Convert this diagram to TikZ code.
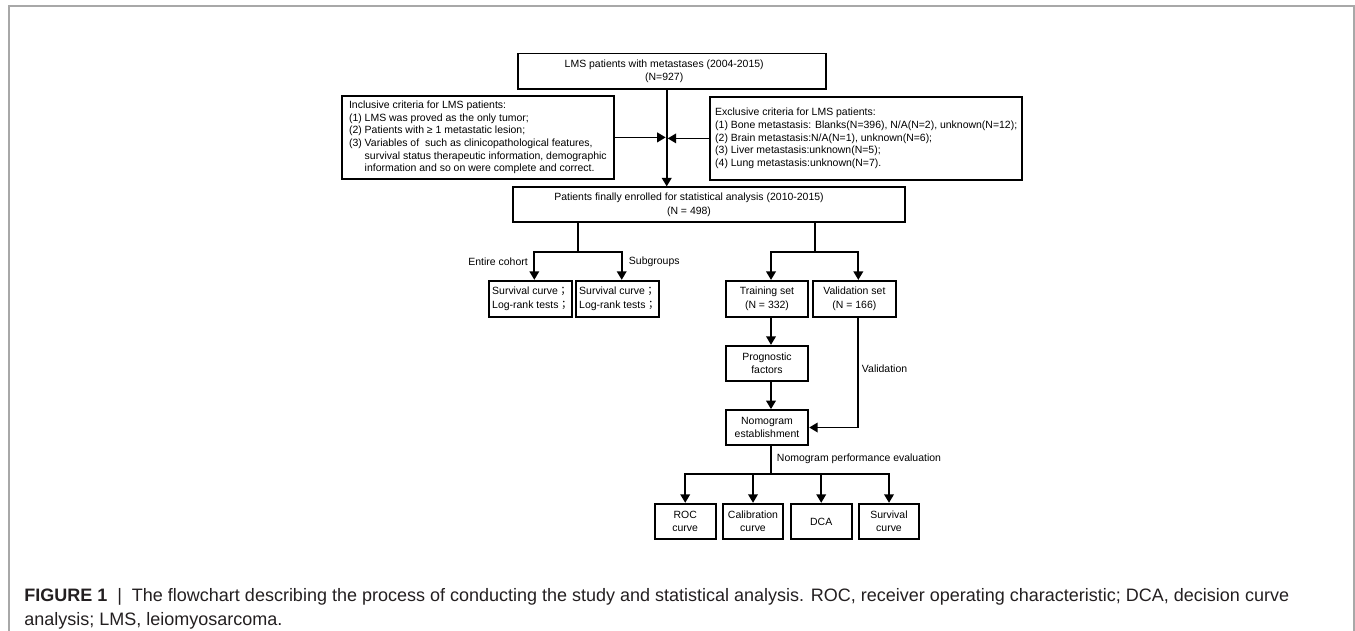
\documentclass[tikz,border=0pt]{standalone}
\usepackage{fontspec}
\setmainfont{Liberation Sans}
\newfontfamily\cjkfont{Noto Sans CJK TC}
\usetikzlibrary{arrows.meta}
\definecolor{framegray}{HTML}{A8A8A8}
\definecolor{captext}{HTML}{231F20}
\newcommand\diafont{\fontsize{7.85pt}{10pt}\selectfont}
\newcommand\listfont{\fontsize{7.85pt}{9.5pt}\selectfont}
\newcommand\capfont{\fontsize{13.5pt}{16pt}\selectfont}
\newcommand\fsemi{{\cjkfont ；}}
\newcommand\padr[1]{\rule{#1}{0pt}}
\begin{document}
\begin{tikzpicture}[x=0.75pt,y=-0.75pt,
  box/.style={draw=black, line width=1.3pt, inner sep=0pt, font=\diafont, align=center, text=black},
  listbox/.style={draw=black, line width=1.3pt, inner sep=0pt, font=\listfont, align=left, text=black},
  lbl/.style={inner sep=0pt, font=\diafont, text=black},
  conn/.style={line width=1.3pt, black},
  arr/.style={conn, -{Triangle[length=6.4pt,width=7.2pt]}},
  captxt/.style={inner sep=0pt, font=\capfont, text=captext, anchor=base west}]
\useasboundingbox (0,0) rectangle (1355,631);
% frame
\draw[framegray, line width=1.1pt] (9,631) -- (9,6) -- (1354,6) -- (1354,631);

% boxes
\node[box, minimum width=231pt, minimum height=26.5pt] (top) at (671.7,71.3)
  {LMS patients with metastases (2004-2015)\padr{11.25pt}\\(N=927)\padr{11.25pt}};
\node[listbox, minimum width=204pt, minimum height=62.5pt] (incl) at (477.9,137.4)
  {Inclusive criteria for LMS patients:\\
   (1) LMS was proved as the only tumor;\\
   (2) Patients with ≥ 1 metastatic lesion;\\
   (3) Variables of~ such as clinicopathological features,\\
   \phantom{(3) }survival status therapeutic information, demographic\\
   \phantom{(3) }information and so on were complete and correct.};
\node[listbox, minimum width=234.2pt, minimum height=62.5pt] (excl) at (866.2,138.4)
  {Exclusive criteria for LMS patients:\\
   (1) Bone metastasis: Blanks(N=396), N/A(N=2), unknown(N=12);\\
   (2) Brain metastasis:N/A(N=1), unknown(N=6);\\
   (3) Liver metastasis:unknown(N=5);\\
   (4) Lung metastasis:unknown(N=7).};
\node[box, minimum width=294pt, minimum height=26.25pt] (pat) at (709,204.8)
  {Patients finally enrolled for statistical analysis (2010-2015)\padr{30pt}\\(N = 498)\padr{30pt}};
\node[box, align=left, minimum width=62.25pt, minimum height=27pt] (s1) at (530.6,298.7)
  {Survival curve\fsemi\\Log-rank tests\fsemi};
\node[box, align=left, minimum width=62.25pt, minimum height=27pt] (s2) at (617.6,298.7)
  {Survival curve\fsemi\\Log-rank tests\fsemi};
\node[box, minimum width=62pt, minimum height=27pt] (tr) at (767,298.8)
  {Training set\\(N = 332)};
\node[box, minimum width=62.5pt, minimum height=27pt] (va) at (854.4,298.8)
  {Validation set\\(N = 166)};
\node[box, minimum width=62pt, minimum height=26.5pt] (pr) at (767,363.4)
  {Prognostic\\factors};
\node[box, minimum width=62pt, minimum height=26.25pt] (nm) at (767,427.5)
  {Nomogram\\establishment};
\node[box, minimum width=45.75pt, minimum height=26.7pt] (roc) at (685.2,521.5)
  {ROC\\curve};
\node[box, minimum width=45.5pt, minimum height=26.7pt] (cal) at (753,521.5)
  {Calibration\\curve};
\node[box, minimum width=45.75pt, minimum height=26.7pt] (dca) at (821.2,521.5)
  {DCA};
\node[box, minimum width=45.5pt, minimum height=26.7pt] (sc) at (889,521.5)
  {Survival\\curve};

% labels
\node[lbl, anchor=east] (ent) at (528,262) {Entire cohort};
\node[lbl, anchor=west] (sub) at (628.7,262) {Subgroups};
\node[lbl, anchor=west] (val) at (861.7,368.7) {Validation};
\node[lbl, anchor=west] (npe) at (776.7,458.3) {Nomogram performance evaluation};

% helper coordinates
\coordinate (mid) at (666.7,0);
\coordinate (jl) at (665.7,0);
\coordinate (jr) at (667.7,0);
\coordinate (lb) at (578.3,251.7);
\coordinate (l1) at (534.3,0);
\coordinate (l2) at (621.7,0);
\coordinate (rb) at (815,251.7);
\coordinate (t) at (771,0);
\coordinate (v) at (858.3,0);
\coordinate (nb) at (771,474);

% connectors
\draw[arr] (top.south -| mid) -- (pat.north -| mid);
\draw[arr] (incl.east) -- (incl.east -| jl);
\draw[arr] (excl.west) -- (excl.west -| jr);
\draw[conn] (pat.south -| lb) -- (lb);
\draw[arr] (lb) -| (s1.north -| l1);
\draw[arr] (lb) -| (s2.north -| l2);
\draw[conn] (pat.south -| rb) -- (rb);
\draw[arr] (rb) -| (tr.north -| t);
\draw[arr] (rb) -| (va.north -| v);
\draw[arr] (tr.south -| t) -- (pr.north -| t);
\draw[arr] (pr.south -| t) -- (nm.north -| t);
\draw[arr] (va.south -| v) |- (nm.east);
\draw[conn] (nm.south -| nb) -- (nb);
\draw[arr] (nb) -| (roc.north);
\draw[arr] (nb) -| (cal.north);
\draw[arr] (nb) -| (dca.north);
\draw[arr] (nb) -| (sc.north);

% caption
\node[captxt] (cap1) at (24,601) {\textbf{FIGURE 1}~ | ~The flowchart describing the process of conducting the study and statistical analysis. ROC, receiver operating characteristic; DCA, decision curve};
\node[captxt] (cap2) at (24,625) {analysis; LMS, leiomyosarcoma.};
\end{tikzpicture}
\end{document}
